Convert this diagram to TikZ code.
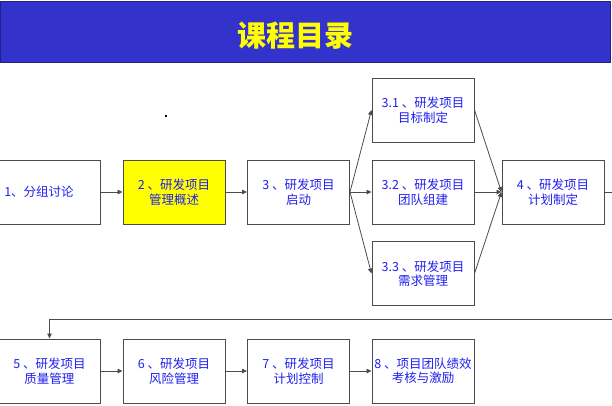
\documentclass[tikz,border=0pt]{standalone}
\usepackage{fontspec}
\setmainfont{Noto Sans CJK SC}
\usetikzlibrary{arrows.meta}
\definecolor{barblue}{HTML}{3333CC}
\definecolor{barline}{HTML}{22228A}
\definecolor{txtblue}{HTML}{2020F0}
\definecolor{titley}{HTML}{FFFF00}
\begin{document}
\begin{tikzpicture}[x=1pt,y=-1pt,
  box/.style={draw=black!70,line width=1pt,fill=white,minimum width=102pt,minimum height=64pt,inner sep=0pt,
    align=center,text=txtblue,font=\fontsize{12.5}{14.5}\selectfont},
  conn/.style={draw=black!70,line width=0.8pt,-{Triangle[length=5pt,width=4.5pt]}},
  plain/.style={draw=black!70,line width=0.8pt}]
\useasboundingbox (0,0) rectangle (612,405);
% title bar
\node[draw=barline,line width=1pt,fill=barblue,minimum width=610pt,minimum height=61pt,inner sep=0pt,anchor=north west]
  (bar) at (0,1) {};
\node[text=titley,font=\fontsize{29}{32}\selectfont\bfseries] (title) at (295,36) {课程目录};
% stray dot
\fill[black] (165,115) rectangle (167,117);
% row 1
\node[box] (b1) at (49.5,192) {1、分组讨论\hspace{21pt}};
\node[box,fill=titley] (b2) at (174,192) {2\ 、研发项目\\管理概述};
\node[box] (b3) at (298.5,192) {3\ 、研发项目\\启动};
\node[box] (b31) at (423,110) {3.1\ 、研发项目\\目标制定};
\node[box] (b32) at (423,192) {3.2\ 、研发项目\\团队组建};
\node[box] (b33) at (423,273.5) {3.3\ 、研发项目\\需求管理};
\node[box] (b4) at (553,192) {4\ 、研发项目\\计划制定};
% row 2
\node[box] (b5) at (49.5,371) {5\ 、研发项目\\质量管理};
\node[box] (b6) at (174,371) {6\ 、研发项目\\风险管理};
\node[box] (b7) at (298.5,371) {7\ 、研发项目\\计划控制};
\node[box] (b8) at (423,371) {8\ 、项目团队绩效\\考核与激励};
\coordinate (r1) at (625,192);
\coordinate (r2) at (625,319);
\coordinate (l2) at (49.5,319);
% connectors
\draw[conn] (b1) -- (b2);
\draw[conn] (b2) -- (b3);
\draw[conn] (b3.east) -- (b31.west);
\draw[conn] (b3.east) -- (b32.west);
\draw[conn] (b3.east) -- (b33.west);
\draw[conn] (b31.east) -- (b4.west);
\draw[conn] (b32.east) -- (b4.west);
\draw[conn] (b33.east) -- (b4.west);
\draw[conn] (b4.east) -- (r1) -- (r2) -- (l2) -- (b5.north);
\draw[conn] (b5) -- (b6);
\draw[conn] (b6) -- (b7);
\draw[conn] (b7) -- (b8);
\end{tikzpicture}
\end{document}
